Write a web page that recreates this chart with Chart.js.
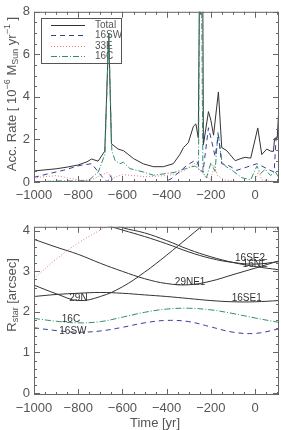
<!DOCTYPE html>
<html>
<head>
<meta charset="utf-8">
<script src="https://cdn.jsdelivr.net/npm/chart.js@4.4.0/dist/chart.umd.min.js"></script>
<style>
  body { margin: 0; background: #fff; }
  #wrap { position: relative; width: 281px; height: 430px; }
  canvas { position: absolute; left: 0; }
</style>
</head>
<body>
<div id="wrap">
  <canvas id="accChart" width="281" height="215" style="top:0"></canvas>
  <canvas id="radChart" width="281" height="215" style="top:215px"></canvas>
</div>
<script>
// shared time axis [yr]
var timeMin = -1000, timeMax = 108;
var timeTicks = [-1000, -800, -600, -400, -200, 0];

// top panel: accretion rate [1e-6 Msun/yr]
var accTicks = [0, 2, 4, 6, 8];
var totalT = [-1000, -900, -850, -800, -760, -740, -710, -680, -662, -650, -620, -595, -550, -505, -460, -415, -370, -340, -324, -302, -279, -268, -257, -251, -237, -234, -211, -200, -188, -166, -151, -128, -90, -68, -45, -20, 12, 30, 53, 70, 83, 88, 100, 108];
var totalV = [0.52, 0.62, 0.7, 0.8, 0.95, 1.08, 0.98, 1.45, 7.0, 1.8, 1.55, 1.47, 1.1, 0.85, 0.72, 0.72, 0.86, 1.3, 1.62, 1.85, 2.62, 2.73, 2.08, 10, 10, 1.75, 3.31, 2.9, 2.2, 4.23, 1.62, 1.47, 1.0, 1.09, 1.16, 1.12, 2.54, 1.29, 1.55, 1.45, 1.44, 2.05, 2.05, 3.62];
var swT = [-1000, -930, -867, -792, -739, -709, -686, -668, -655, -640, -600, -500, -420, -380, -340, -309, -279, -264, -250, -236, -211, -196, -181, -166, -151, -121, -83, -38, 8, 40, 68, 86, 95, 108];
var swV = [0.22, 0.4, 0.55, 0.78, 0.86, 0.47, 0.17, 0.0, 0.3, 0.0, -0.05, -0.05, -0.05, 0.15, 0.5, 0.78, 0.97, 1.0, 0.6, 0.45, 2.55, 1.9, 1.2, 2.2, 0.86, 0.78, 0.55, 0.7, 0.86, 0.7, 0.55, 0.47, 2.08, 2.31];
var eT = [-1000, -900, -850, -800, -750, -700, -670, -640, -600, -550, -500, -400, -350, -300, -270, -250, -230, -200, -185, -170, -140, -100, -50, 0, 15, 30, 60, 108];
var eV = [0.2, 0.3, 0.2, 0.1, 0.05, 0.3, 0.45, 0.2, 0.35, 0.3, 0.25, 0.3, 0.4, 0.65, 0.9, 0.55, 0.3, 0.1, 0.8, 0.3, 0.1, 0.05, 0.0, 0.0, 0.5, 0.1, 0.05, 0.0];
var cT = [-1000, -900, -800, -750, -709, -679, -662, -648, -633, -611, -596, -566, -505, -460, -400, -366, -294, -270, -256, -251, -243, -236, -220, -200, -181, -168, -150, -128, -98, -60, -20, 8, 25, 45, 70, 90, 108];
var cV = [0.0, 0.05, 0.05, 0.1, 0.47, 1.32, 7.0, 1.47, 1.0, 0.86, 0.93, 0.63, 0.47, 0.32, 0.4, 0.45, 0.7, 0.75, 0.6, 10, 10, 0.5, 0.2, 0.9, 0.5, 2.35, 0.9, 0.7, 0.5, 0.2, 0.1, 0.75, 0.4, 0.6, 0.3, 0.5, 0.2];

// bottom panel: distance to star [arcsec]
var radTicks = [0, 1, 2, 3, 4];
var radT = [-1000, -900, -800, -700, -600, -500, -400, -300, -200, -100, 0, 108];
var r33E = [2.82, 3.3, 3.7, 4.02, 4.3, 4.5, 4.62, 4.66, 4.62, 4.5, 4.3, 3.99];
var r29NE1 = [3.79, 3.6, 3.42, 3.2, 3.0, 2.82, 2.7, 2.67, 2.76, 2.92, 3.08, 3.26];
var r29N = [2.66, 2.45, 2.28, 2.38, 2.62, 2.98, 3.4, 3.85, 4.3, 4.75, 5.2, 5.7];
var r16SE1 = [2.38, 2.43, 2.46, 2.48, 2.46, 2.42, 2.38, 2.33, 2.28, 2.25, 2.25, 2.28];
var r16SE2 = [4.9, 4.72, 4.52, 4.3, 4.08, 3.95, 3.76, 3.54, 3.36, 3.22, 3.12, 3.04];
var r16NE = [4.62, 4.48, 4.33, 4.18, 4.02, 3.86, 3.68, 3.48, 3.32, 3.22, 3.18, 3.24];
var r16C = [1.84, 1.77, 1.73, 1.76, 1.87, 1.99, 2.07, 2.09, 2.05, 1.96, 1.85, 1.74];
var r16SW = [1.61, 1.54, 1.5, 1.53, 1.62, 1.73, 1.79, 1.76, 1.63, 1.5, 1.47, 1.58];

// curve names written on the bottom panel (data coords)
var curveNames = ['16C', '16SW', '29N', '29NE1', '16SE1', '16SE2', '16NE'];
var nameT = [-833, -824, -799, -294, -38, -23, 0];
var nameV = [1.81, 1.53, 2.34, 2.74, 2.34, 3.32, 3.17];

var FONT = '"Liberation Sans", Arial, sans-serif';
var TXT = '#555';
var BLACK = '#333', BLUE = '#3b3b9c', RED = '#e57b7b', GREEN = '#2f8f6a';
var DASH = [5, 4], DOT = [1, 2], DASHDOT = [6, 2, 1, 2];

function pts(ts, vs) {
  return ts.map(function (t, i) { return { x: t, y: vs[i] }; });
}

function line(ts, vs, color, dash, tension) {
  return {
    data: pts(ts, vs),
    borderColor: color,
    borderWidth: 1,
    borderDash: dash || [],
    pointRadius: 0,
    tension: tension || 0,
    fill: false,
    clip: 0
  };
}

function fmtTick(v) {
  return v < 0 ? '\u2212' + Math.abs(v) : String(v);
}

// text with super/subscripts, rotated about its centre
function drawRich(ctx, parts, cx, cy, angle, size) {
  var small = Math.round(size * 0.7);
  var w = 0;
  parts.forEach(function (p) {
    ctx.font = (p[1] ? small : size) + 'px ' + FONT;
    w += ctx.measureText(p[0]).width;
  });
  ctx.save();
  ctx.translate(cx, cy);
  ctx.rotate(angle);
  ctx.fillStyle = TXT;
  ctx.textBaseline = 'middle';
  ctx.textAlign = 'left';
  var x = -w / 2;
  parts.forEach(function (p) {
    ctx.font = (p[1] ? small : size) + 'px ' + FONT;
    var dy = p[1] > 0 ? -size * 0.35 : (p[1] < 0 ? size * 0.3 : 0);
    ctx.fillText(p[0], x, dy);
    x += ctx.measureText(p[0]).width;
  });
  ctx.restore();
}

// IDL style box with inward ticks, titles, legend and curve names
var idlFrame = {
  id: 'idlFrame',
  afterDatasetsDraw: function (chart, args, o) {
    var ctx = chart.ctx, a = chart.chartArea;
    var xs = chart.scales.x, ys = chart.scales.y;
    ctx.save();
    ctx.strokeStyle = '#666';
    ctx.lineWidth = 1;
    ctx.setLineDash([]);
    ctx.strokeRect(a.left + 0.5, a.top + 0.5, a.right - a.left - 1, a.bottom - a.top - 1);

    var v, p, len;
    ctx.beginPath();
    for (v = Math.ceil(xs.min / o.xMinor) * o.xMinor; v <= xs.max; v += o.xMinor) {
      p = Math.round(xs.getPixelForValue(v)) + 0.5;
      len = Math.abs(v % o.xMajor) < 1e-6 ? 6 : 3;
      ctx.moveTo(p, a.bottom); ctx.lineTo(p, a.bottom - len);
      ctx.moveTo(p, a.top); ctx.lineTo(p, a.top + len);
    }
    for (v = Math.ceil(ys.min / o.yMinor - 1e-6) * o.yMinor; v <= ys.max + 1e-6; v += o.yMinor) {
      p = Math.round(ys.getPixelForValue(v)) + 0.5;
      len = Math.abs(v / o.yMajor - Math.round(v / o.yMajor)) < 1e-6 ? 6 : 3;
      ctx.moveTo(a.left, p); ctx.lineTo(a.left + len, p);
      ctx.moveTo(a.right, p); ctx.lineTo(a.right - len, p);
    }
    ctx.stroke();

    drawRich(ctx, o.yTitle, 12, o.yTitleY, -Math.PI / 2, 13);
    if (o.xTitle) drawRich(ctx, o.xTitle, 155, o.xTitleY, 0, 13);

    if (o.legend) {
      var L = o.legend;
      ctx.strokeStyle = '#555';
      ctx.strokeRect(L.box[0] + 0.5, L.box[1] + 0.5, L.box[2] - L.box[0], L.box[3] - L.box[1]);
      ctx.font = '10px ' + FONT;
      ctx.textBaseline = 'middle';
      ctx.textAlign = 'left';
      L.items.forEach(function (it, i) {
        var y = Math.round(L.rows[i]) + 0.5;
        ctx.strokeStyle = it.color;
        ctx.setLineDash(it.dash);
        ctx.beginPath();
        ctx.moveTo(L.x0, y); ctx.lineTo(L.x1, y);
        ctx.stroke();
        ctx.fillStyle = TXT;
        ctx.fillText(it.text, L.tx, y);
      });
      ctx.setLineDash([]);
    }

    if (o.names) {
      ctx.font = '10px ' + FONT;
      ctx.fillStyle = BLACK;
      ctx.textAlign = 'center';
      ctx.textBaseline = 'middle';
      o.names.forEach(function (n, i) {
        ctx.fillText(n, xs.getPixelForValue(nameT[i]), ys.getPixelForValue(nameV[i]));
      });
    }
    ctx.restore();
  }
};

function xScale(h) {
  return {
    type: 'linear', min: timeMin, max: timeMax,
    afterBuildTicks: function (s) { s.ticks = timeTicks.map(function (v) { return { value: v }; }); },
    afterFit: function (s) { s.height = h; },
    ticks: { callback: fmtTick, font: { family: FONT, size: 13 }, color: TXT, padding: 6, maxRotation: 0, autoSkip: false },
    grid: { display: false, drawTicks: false },
    border: { display: false }
  };
}

function yScale(min, max, tickList) {
  return {
    min: min, max: max,
    afterBuildTicks: function (s) { s.ticks = tickList.map(function (v) { return { value: v }; }); },
    afterFit: function (s) { s.width = 34; },
    ticks: { callback: fmtTick, font: { family: FONT, size: 13 }, color: TXT, padding: 4 },
    grid: { display: false, drawTicks: false },
    border: { display: false }
  };
}

Chart.defaults.font.family = FONT;

new Chart(document.getElementById('accChart'), {
  type: 'line',
  data: {
    datasets: [
      line(eT, eV, RED, DOT),
      line(swT, swV, BLUE, DASH),
      line(cT, cV, GREEN, DASHDOT),
      line(totalT, totalV, BLACK)
    ]
  },
  options: {
    responsive: false, animation: false, devicePixelRatio: 1,
    layout: { padding: { top: 8, right: 2, left: 0, bottom: 0 } },
    scales: { x: xScale(33), y: yScale(0, 8, accTicks) },
    plugins: {
      legend: { display: false }, tooltip: { enabled: false },
      idlFrame: {
        xMajor: 200, xMinor: 50, yMajor: 2, yMinor: 0.5,
        yTitle: [['Acc. Rate [ 10', 0], ['\u22126', 1], [' M', 0], ['Sun', -1], [' yr', 0], ['\u22121', 1], [' ]', 0]],
        yTitleY: 94,
        legend: {
          box: [41, 18, 121, 63], x0: 51, x1: 85, tx: 95, rows: [25, 35, 45.5, 56],
          items: [
            { text: 'Total', color: BLACK, dash: [] },
            { text: '16SW', color: BLUE, dash: DASH },
            { text: '33E', color: RED, dash: DOT },
            { text: '16C', color: GREEN, dash: DASHDOT }
          ]
        }
      }
    }
  },
  plugins: [idlFrame]
});

new Chart(document.getElementById('radChart'), {
  type: 'line',
  data: {
    datasets: [
      line(radT, r33E, RED, DOT, 0.4),
      line(radT, r29NE1, BLACK, null, 0.4),
      line(radT, r29N, BLACK, null, 0.4),
      line(radT, r16SE1, BLACK, null, 0.4),
      line(radT, r16SE2, BLACK, null, 0.4),
      line(radT, r16NE, BLACK, null, 0.4),
      line(radT, r16C, GREEN, DASHDOT, 0.4),
      line(radT, r16SW, BLUE, DASH, 0.4)
    ]
  },
  options: {
    responsive: false, animation: false, devicePixelRatio: 1,
    layout: { padding: { top: 6, right: 2, left: 0, bottom: 0 } },
    scales: { x: xScale(35), y: yScale(-0.05, 4.1, radTicks) },
    plugins: {
      legend: { display: false }, tooltip: { enabled: false },
      idlFrame: {
        xMajor: 200, xMinor: 50, yMajor: 1, yMinor: 0.2,
        yTitle: [['R', 0], ['star', -1], [' [arcsec]', 0]],
        yTitleY: 80,
        xTitle: [['Time [yr]', 0]],
        xTitleY: 208,
        names: curveNames
      }
    }
  },
  plugins: [idlFrame]
});
</script>
</body>
</html>
